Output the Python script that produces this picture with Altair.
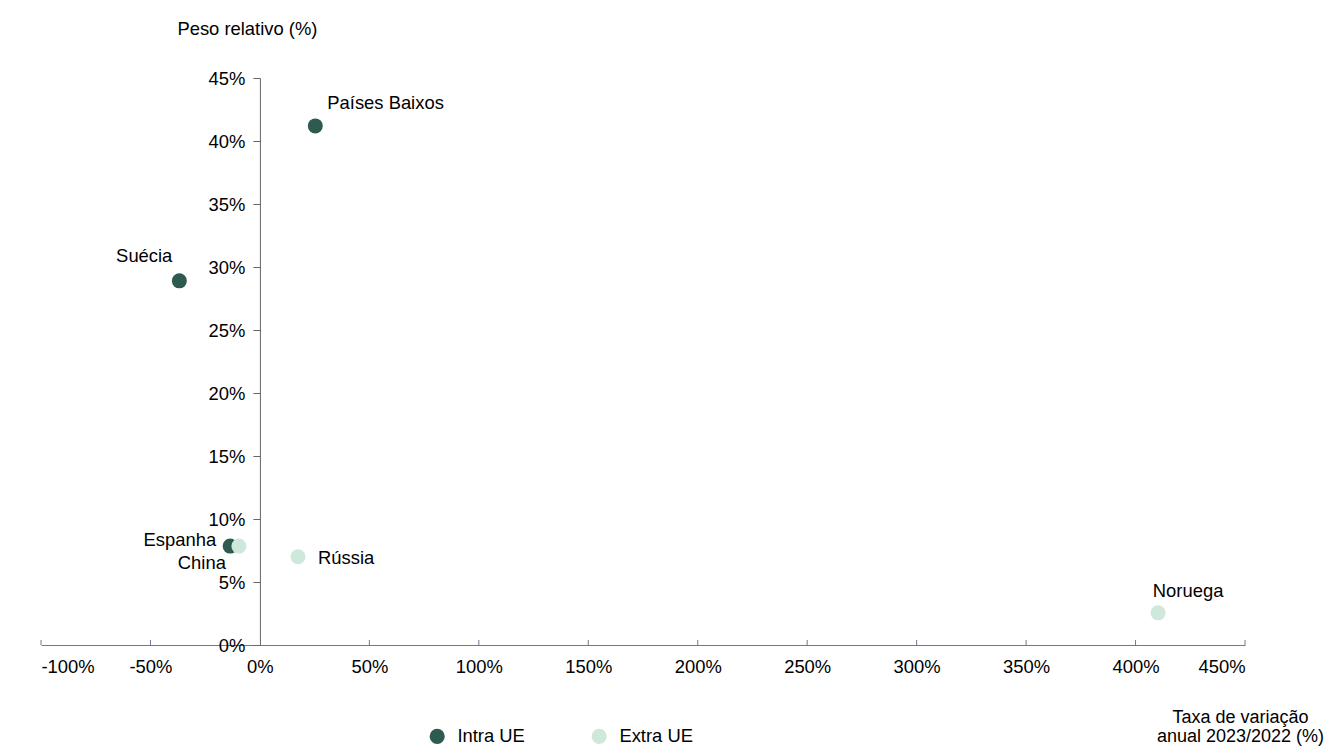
import altair as alt
import pandas as pd

countries = ["Países Baixos", "Suécia", "Espanha", "China", "Rússia", "Noruega"]
taxa = [25.3, -36.8, -13.6, -9.6, 17.4, 410.3]
peso = [41.2, 28.9, 7.85, 7.85, 7.0, 2.55]
groups = ["Intra UE", "Intra UE", "Intra UE", "Extra UE", "Extra UE", "Extra UE"]
x_ticks = [-100, -50, 0, 50, 100, 150, 200, 250, 300, 350, 400, 450]
y_ticks = [0, 5, 10, 15, 20, 25, 30, 35, 40, 45]
group_order = ["Intra UE", "Extra UE"]

df = pd.DataFrame({"pais": countries, "taxa": taxa, "peso": peso, "grupo": groups})
ticks_df = pd.DataFrame({"t": [v for v in x_ticks if v != 0]})

W, H = 1204, 567
FONT = "Liberation Sans"
FS = 18.4
DARK = "#2f5a4f"
LIGHT = "#cfe8dc"

xscale = alt.Scale(domain=[-100, 450], nice=False, zero=False)
yscale = alt.Scale(domain=[0, 45], nice=False, zero=False)

points = alt.Chart(df).mark_circle(size=225, opacity=1).encode(
    x=alt.X("taxa:Q", scale=xscale,
            axis=alt.Axis(values=x_ticks, labelExpr="datum.value + '%'", ticks=False,
                          domainColor="#6b7a90", domainWidth=1, grid=False,
                          labelFontSize=FS, labelColor="#000000", labelPadding=12,
                          title=["Taxa de variação", "anual 2023/2022 (%)"],
                          titleAlign="center", titleX=1199, titleY=63, titleBaseline="top",
                          titleFontWeight="normal", titleFontSize=18, titleColor="#000000",
                          titleLineHeight=19.5)),
    y=alt.Y("peso:Q", scale=yscale,
            axis=alt.Axis(values=y_ticks, labelExpr="datum.value + '%'", grid=False,
                          offset=-W * 100 / 550, tickSize=7, tickColor="#666666",
                          domainColor="#666666", labelFontSize=FS, labelColor="#000000",
                          labelPadding=8, title="Peso relativo (%)", titleAngle=0,
                          titleX=-13, titleY=-50, titleAlign="center", titleBaseline="middle",
                          titleFontWeight="normal", titleFontSize=FS, titleColor="#000000")),
    color=alt.Color("grupo:N", scale=alt.Scale(domain=group_order, range=[DARK, LIGHT]),
                    legend=alt.Legend(orient="none", legendX=387, legendY=649,
                                      direction="horizontal", title=None,
                                      symbolType="circle", symbolSize=230,
                                      symbolStrokeWidth=0, labelFontSize=FS,
                                      labelColor="#000000", labelOffset=11,
                                      columnPadding=65)),
)

tick_marks = alt.Chart(ticks_df).mark_rule(color="#6b7a90", strokeWidth=1).encode(
    x=alt.X("t:Q", scale=xscale),
    y=alt.value(H),
    y2=alt.value(H - 5),
)

label_styles = {
    "Países Baixos": dict(align="left", dx=12, dy=-23),
    "Suécia": dict(align="right", dx=-7, dy=-25),
    "Espanha": dict(align="right", dx=-14, dy=-6),
    "China": dict(align="right", dx=-13, dy=17),
    "Rússia": dict(align="left", dx=20, dy=1),
    "Noruega": dict(align="center", dx=30, dy=-22),
}

labels = []
for name, st in label_styles.items():
    labels.append(
        alt.Chart(df).transform_filter(alt.datum.pais == name).mark_text(
            baseline="middle", fontSize=FS, color="#000000", font=FONT, **st
        ).encode(x=alt.X("taxa:Q", scale=xscale), y=alt.Y("peso:Q", scale=yscale), text="pais:N")
    )

chart = alt.layer(tick_marks, points, *labels).properties(
    width=W, height=H,
    autosize=alt.AutoSizeParams(type="none"),
    padding={"left": 33, "top": 70, "right": 80, "bottom": 102},
).configure(font=FONT).configure_view(stroke=None)

chart.save("out.html", embed_options={"renderer": "svg", "actions": False})
